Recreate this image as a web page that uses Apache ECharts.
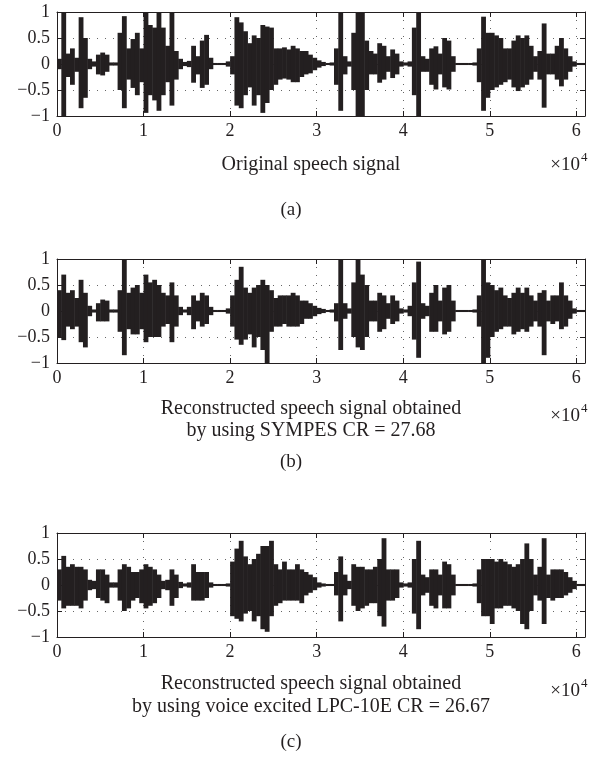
<!DOCTYPE html>
<html>
<head>
<meta charset="utf-8">
<script src="https://cdn.jsdelivr.net/npm/echarts@6/dist/echarts.min.js"></script>
<style>
html, body { margin: 0; padding: 0; background: #fff; }
#chart { width: 592px; height: 767px; }
</style>
</head>
<body>
<div id="chart"></div>
<script>
// envelope of each speech signal, one value per block of 500 samples
var BIN = 500
var xTicks = ['0', '1', '2', '3', '4', '5', '6']        // x 10^4 samples
var yTicks = ['1', '0.5', '0', '\u22120.5', '\u22121']  // from top to bottom

var hiA = [
	0.1, 1, 0.2, 0.3, 0.12, 0.9, 0.5, 0.1, 0.05, 0.18,
	0.22, 0.18, 0.03, 0.03, 0.6, 0.92, 0.3, 0.48, 0.6, 0.3,
	1, 0.75, 0.7, 1, 0.7, 0.35, 1, 0.25, 0.1, 0.04,
	0.06, 0.35, 0.15, 0.45, 0.56, 0.12, 0.02, 0.02, 0.02, 0.05,
	0.15, 0.9, 0.8, 0.63, 0.4, 0.55, 0.5, 0.75, 0.72, 0.7,
	0.3, 0.3, 0.32, 0.28, 0.35, 0.3, 0.25, 0.25, 0.18, 0.12,
	0.07, 0.04, 0.02, 0.03, 0.3, 1, 0.15, 0.05, 0.6, 1,
	1, 0.45, 0.25, 0.2, 0.4, 0.35, 0.15, 0.28, 0.2, 0.05,
	0.03, 0.05, 0.7, 1, 0.15, 0.1, 0.3, 0.34, 0.2, 0.5,
	0.45, 0.15, 0.02, 0.02, 0.02, 0.02, 0.03, 0.3, 0.91, 0.6,
	0.6, 0.55, 0.5, 0.3, 0.3, 0.45, 0.55, 0.5, 0.55, 0.35,
	0.15, 0.25, 0.78, 0.2, 0.2, 0.35, 0.5, 0.3, 0.15, 0.05,
	0.02, 0.02
]
var loA = [
	-0.1, -1, -0.25, -0.4, -0.15, -0.85, -0.65, -0.1, -0.05, -0.2,
	-0.22, -0.15, -0.03, -0.03, -0.5, -0.85, -0.3, -0.46, -0.6, -0.35,
	-0.94, -0.6, -0.7, -0.9, -0.6, -0.35, -0.8, -0.3, -0.1, -0.04,
	-0.06, -0.36, -0.2, -0.46, -0.4, -0.1, -0.02, -0.02, -0.02, -0.05,
	-0.2, -0.8, -0.85, -0.6, -0.45, -0.8, -0.6, -0.94, -0.75, -0.5,
	-0.4, -0.3, -0.28, -0.3, -0.35, -0.35, -0.25, -0.2, -0.18, -0.12,
	-0.07, -0.04, -0.02, -0.03, -0.4, -0.9, -0.2, -0.05, -0.5, -1,
	-1, -0.5, -0.2, -0.2, -0.36, -0.3, -0.15, -0.27, -0.2, -0.05,
	-0.03, -0.05, -0.6, -1, -0.15, -0.15, -0.4, -0.49, -0.2, -0.45,
	-0.49, -0.15, -0.02, -0.02, -0.02, -0.02, -0.03, -0.35, -0.9, -0.65,
	-0.5, -0.45, -0.4, -0.35, -0.3, -0.45, -0.52, -0.45, -0.4, -0.3,
	-0.15, -0.3, -0.84, -0.2, -0.2, -0.3, -0.43, -0.3, -0.15, -0.05,
	-0.02, -0.02
]

var hiB = [
	0.4, 0.7, 0.35, 0.4, 0.25, 0.6, 0.35, 0.1, 0.03, 0.15,
	0.22, 0.2, 0.03, 0.03, 0.4, 1, 0.35, 0.45, 0.5, 0.35,
	0.7, 0.55, 0.6, 0.5, 0.35, 0.3, 0.55, 0.3, 0.08, 0.03,
	0.08, 0.3, 0.2, 0.35, 0.3, 0.08, 0.02, 0.02, 0.02, 0.05,
	0.3, 0.6, 0.85, 0.45, 0.35, 0.45, 0.5, 0.6, 0.5, 0.4,
	0.25, 0.3, 0.3, 0.3, 0.35, 0.3, 0.2, 0.2, 0.15, 0.1,
	0.06, 0.04, 0.02, 0.03, 0.15, 1, 0.15, 0.05, 0.55, 1,
	0.7, 0.5, 0.2, 0.2, 0.35, 0.3, 0.15, 0.3, 0.2, 0.05,
	0.03, 0.1, 0.55, 0.95, 0.15, 0.1, 0.35, 0.5, 0.2, 0.45,
	0.5, 0.2, 0.02, 0.02, 0.02, 0.02, 0.03, 0.3, 1, 0.55,
	0.5, 0.4, 0.45, 0.3, 0.25, 0.35, 0.45, 0.35, 0.45, 0.3,
	0.2, 0.35, 0.4, 0.2, 0.3, 0.3, 0.55, 0.3, 0.2, 0.05,
	0.02, 0.02
]
var loB = [
	-0.5, -0.56, -0.3, -0.35, -0.3, -0.6, -0.7, -0.1, -0.03, -0.2,
	-0.2, -0.2, -0.03, -0.03, -0.4, -0.85, -0.35, -0.45, -0.45, -0.35,
	-0.6, -0.5, -0.5, -0.5, -0.3, -0.25, -0.6, -0.3, -0.08, -0.03,
	-0.08, -0.35, -0.2, -0.3, -0.25, -0.08, -0.02, -0.02, -0.02, -0.05,
	-0.3, -0.55, -0.65, -0.55, -0.45, -0.7, -0.5, -0.75, -1, -0.4,
	-0.3, -0.3, -0.25, -0.3, -0.3, -0.3, -0.25, -0.15, -0.15, -0.1,
	-0.06, -0.04, -0.02, -0.03, -0.2, -0.75, -0.15, -0.05, -0.5, -0.7,
	-0.75, -0.5, -0.2, -0.2, -0.4, -0.35, -0.15, -0.25, -0.2, -0.05,
	-0.03, -0.1, -0.55, -0.9, -0.15, -0.1, -0.4, -0.4, -0.2, -0.45,
	-0.4, -0.2, -0.02, -0.02, -0.02, -0.02, -0.03, -0.3, -1, -0.9,
	-0.5, -0.4, -0.35, -0.3, -0.3, -0.45, -0.4, -0.35, -0.4, -0.3,
	-0.2, -0.3, -0.85, -0.2, -0.25, -0.2, -0.35, -0.3, -0.15, -0.05,
	-0.02, -0.02
]

var hiC = [
	0.3, 0.56, 0.35, 0.4, 0.35, 0.35, 0.3, 0.1, 0.08, 0.3,
	0.3, 0.2, 0.05, 0.05, 0.3, 0.4, 0.35, 0.25, 0.25, 0.3,
	0.4, 0.35, 0.3, 0.2, 0.08, 0.1, 0.3, 0.2, 0.06, 0.03,
	0.05, 0.4, 0.25, 0.25, 0.25, 0.05, 0.02, 0.02, 0.02, 0.03,
	0.45, 0.7, 0.85, 0.55, 0.4, 0.5, 0.6, 0.75, 0.75, 0.85,
	0.4, 0.3, 0.45, 0.3, 0.3, 0.4, 0.3, 0.25, 0.2, 0.15,
	0.05, 0.03, 0.02, 0.02, 0.25, 0.55, 0.2, 0.08, 0.4, 0.35,
	0.35, 0.3, 0.3, 0.35, 0.5, 0.9, 0.3, 0.3, 0.3, 0.05,
	0.03, 0.05, 0.5, 0.85, 0.2, 0.15, 0.3, 0.3, 0.2, 0.45,
	0.4, 0.2, 0.02, 0.02, 0.02, 0.02, 0.03, 0.3, 0.5, 0.5,
	0.5, 0.45, 0.5, 0.45, 0.4, 0.35, 0.4, 0.5, 0.8, 0.5,
	0.2, 0.35, 0.9, 0.2, 0.3, 0.3, 0.3, 0.25, 0.15, 0.08,
	0.02, 0.02
]
var loC = [
	-0.3, -0.45, -0.4, -0.4, -0.4, -0.45, -0.3, -0.1, -0.08, -0.25,
	-0.3, -0.35, -0.05, -0.05, -0.3, -0.5, -0.45, -0.3, -0.25, -0.35,
	-0.45, -0.4, -0.35, -0.25, -0.08, -0.1, -0.4, -0.25, -0.06, -0.03,
	-0.05, -0.3, -0.3, -0.3, -0.25, -0.05, -0.02, -0.02, -0.02, -0.03,
	-0.6, -0.65, -0.7, -0.55, -0.5, -0.7, -0.6, -0.85, -0.9, -0.6,
	-0.4, -0.35, -0.3, -0.3, -0.3, -0.3, -0.35, -0.2, -0.15, -0.1,
	-0.05, -0.03, -0.02, -0.02, -0.2, -0.7, -0.2, -0.08, -0.4, -0.5,
	-0.45, -0.4, -0.35, -0.35, -0.6, -0.8, -0.3, -0.3, -0.25, -0.05,
	-0.03, -0.05, -0.55, -0.85, -0.2, -0.15, -0.4, -0.45, -0.2, -0.45,
	-0.45, -0.2, -0.02, -0.02, -0.02, -0.02, -0.03, -0.35, -0.6, -0.6,
	-0.75, -0.45, -0.45, -0.4, -0.4, -0.45, -0.5, -0.75, -0.85, -0.5,
	-0.2, -0.3, -0.75, -0.25, -0.3, -0.25, -0.25, -0.2, -0.15, -0.08,
	-0.02, -0.02
]

var captions = [
	['Original speech signal'],
	['Reconstructed speech signal obtained', 'by using SYMPES CR = 27.68'],
	['Reconstructed speech signal obtained', 'by using voice excited LPC-10E CR = 26.67']
]
var panelTags = ['(a)', '(b)', '(c)']

var FONT = '"Liberation Serif", "DejaVu Serif", serif'
var INK = '#231f20'
var panelTop = [12, 259, 533]
var captionY = [[165], [409, 431], [684, 707]]
var powerY = [165, 416, 691]
var tagY = [210, 462, 742]

function toBins(hi, lo){
	var out = []
	for(let i = 0; i < hi.length; i++){
		out.push([i * BIN, (i + 1) * BIN, lo[i], hi[i]])
	}
	return out
}
var signals = [toBins(hiA, loA), toBins(hiB, loB), toBins(hiC, loC)]

function renderBin(params, api){
	const p1 = api.coord([api.value(0), api.value(3)])
	const p2 = api.coord([api.value(1), api.value(2)])
	return {
		type: 'rect',
		shape: { x: p1[0], y: p1[1], width: p2[0] - p1[0] + 0.5, height: Math.max(p2[1] - p1[1], 1) },
		style: { fill: INK }
	}
}

var grids = [], xAxes = [], yAxes = [], series = [], graphics = []
var dotted = { show: true, lineStyle: { color: '#666', type: [1, 7], width: 1 } }
var line = { show: true, onZero: false, lineStyle: { color: INK, width: 1 } }
var tick = { show: true, inside: true, length: 5, lineStyle: { color: INK } }

panelTop.forEach((top, i) => {
	grids.push({ left: 57, top: top, width: 528, height: 104 })
	xAxes.push({
		gridIndex: i, type: 'value', position: 'bottom', min: 0, max: 61000, interval: 10000,
		axisLine: line, axisTick: tick, splitLine: dotted,
		axisLabel: { color: INK, fontFamily: FONT, fontSize: 18, margin: 6,
			formatter: v => xTicks[Math.round(v / 10000)] }
	})
	xAxes.push({
		gridIndex: i, type: 'value', position: 'top', min: 0, max: 61000, interval: 10000,
		axisLine: line, axisTick: tick, splitLine: { show: false }, axisLabel: { show: false }
	})
	yAxes.push({
		gridIndex: i, type: 'value', position: 'left', min: -1, max: 1, interval: 0.5,
		axisLine: line, axisTick: tick, splitLine: dotted,
		axisLabel: { color: INK, fontFamily: FONT, fontSize: 18, margin: 7,
			formatter: v => yTicks[Math.round((1 - v) * 2)] }
	})
	yAxes.push({
		gridIndex: i, type: 'value', position: 'right', min: -1, max: 1, interval: 0.5,
		axisLine: line, axisTick: tick, splitLine: { show: false }, axisLabel: { show: false }
	})
	series.push({
		type: 'custom', xAxisIndex: i * 2, yAxisIndex: i * 2, clip: true,
		renderItem: renderBin, encode: { x: [0, 1], y: [2, 3] },
		data: signals[i], silent: true
	})
	captions[i].forEach((txt, k) => {
		graphics.push({ type: 'text', x: 311, y: captionY[i][k],
			style: { text: txt, fill: INK, font: '20px ' + FONT, textAlign: 'center', textVerticalAlign: 'middle' } })
	})
	graphics.push({ type: 'text', x: 580, y: powerY[i],
		style: { text: '\u00d710', fill: INK, font: '19px ' + FONT, textAlign: 'right', textVerticalAlign: 'middle' } })
	graphics.push({ type: 'text', x: 581, y: powerY[i] - 7,
		style: { text: '4', fill: INK, font: '13px ' + FONT, textAlign: 'left', textVerticalAlign: 'middle' } })
	graphics.push({ type: 'text', x: 291, y: tagY[i],
		style: { text: panelTags[i], fill: INK, font: '19px ' + FONT, textAlign: 'center', textVerticalAlign: 'middle' } })
})

var myChart = echarts.init(document.getElementById('chart'), null, { renderer: 'canvas' })
myChart.setOption({
	backgroundColor: '#fff',
	animation: false,
	grid: grids,
	xAxis: xAxes,
	yAxis: yAxes,
	series: series,
	graphic: graphics
})
</script>
</body>
</html>
